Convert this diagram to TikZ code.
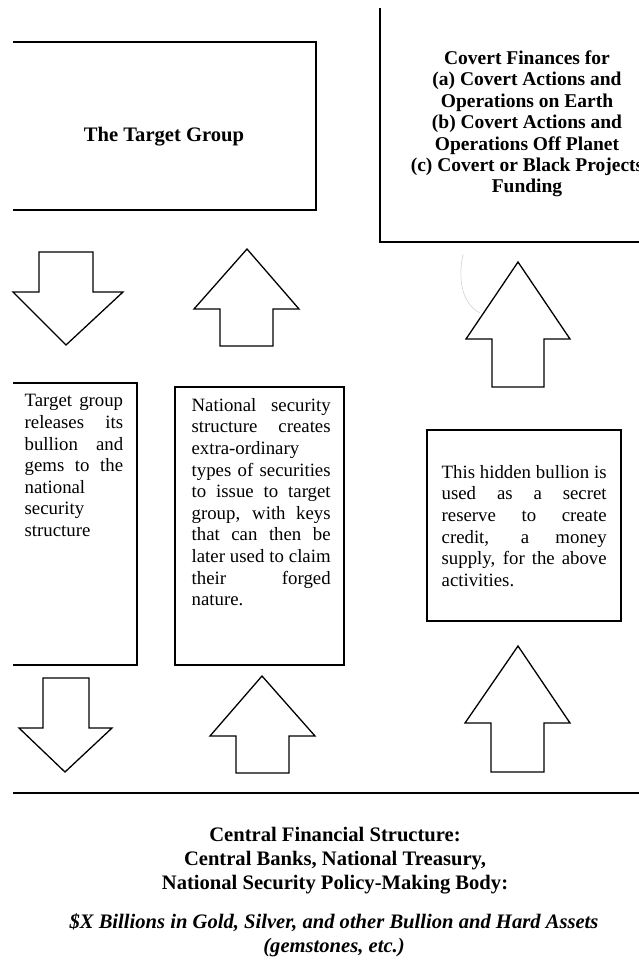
\documentclass[tikz,border=0pt]{standalone}
\usepackage{fontspec}
\setmainfont{Liberation Serif}
\tolerance=10000
\hbadness=10000
\begin{document}
\begin{tikzpicture}[x=1pt, y=-1pt, line width=1.3pt, line join=miter,
        every node/.style={inner sep=0pt},
        bodytext/.style={anchor=north west, align=justify, font=\fontsize{18.8}{21.6}\selectfont},
        titletext/.style={align=center, font=\bfseries\fontsize{19.5}{21.4}\selectfont},
        bigtext/.style={align=center, font=\bfseries\fontsize{20.6}{24}\selectfont}]
        \useasboundingbox (0,0) rectangle (639,966);

        % Top boxes
        \draw (13,42) -- (316,42) -- (316,210) -- (13,210);
        \node[bigtext] (target) at (164,136.5) {The Target Group};
        \draw (380,8) -- (380,242) -- (640,242);
        \node[titletext] (covert) at (527,124) {Covert Finances for\\(a) Covert Actions and\\Operations on Earth\\(b) Covert Actions and\\Operations Off Planet\\(c) Covert or Black Projects\\Funding};
        \draw[gray!35, line width=0.6pt] (463,254) .. controls (458,278) and (461,303) .. (480,313);

        % Upper arrows
        \draw (39,252) -- (93,252) -- (93,292) -- (123,292) -- (66,345) -- (13,292) -- (39,292) -- cycle;
        \draw (247,249) -- (299,309) -- (273,309) -- (273,346) -- (220,346) -- (220,309) -- (194,309) -- cycle;
        \draw (518,262) -- (570,339) -- (544,339) -- (544,387) -- (492,387) -- (492,339) -- (466,339) -- cycle;

        % Text boxes
        \draw (13,383) -- (137,383) -- (137,665) -- (13,665);
        \node[bodytext, text width=98.5pt] (release) at (24,394) {Target group\linebreak releases its\linebreak bullion and\linebreak gems to the\linebreak national\linebreak security\linebreak structure};
        \draw (175,387) rectangle (344,665);
        \node[bodytext, text width=139pt] (securities) at (191,397.7) {National security\linebreak structure creates\linebreak extra-ordinary\linebreak types of securities\linebreak to issue to target\linebreak group, with keys\linebreak that can then be\linebreak later used to claim\linebreak their forged\linebreak nature.};
        \draw (427,430) rectangle (621,621);
        \node[bodytext, text width=165pt] (reserve) at (441,464.7) {This hidden bullion is\linebreak used as a secret\linebreak reserve to create\linebreak credit, a money\linebreak supply, for the above\linebreak activities.};

        % Lower arrows
        \draw (43,678) -- (89,678) -- (89,728) -- (112,728) -- (65,772) -- (19,728) -- (43,728) -- cycle;
        \draw (262,676) -- (315,736) -- (289,736) -- (289,773) -- (236,773) -- (236,736) -- (210,736) -- cycle;
        \draw (518,646) -- (570,723) -- (544,723) -- (544,772) -- (491,772) -- (491,723) -- (465,723) -- cycle;

        % Central structure
        \draw[line width=1.8pt] (13,793) -- (639,793);
        \node[bigtext] (central) at (335,861) {Central Financial Structure:\\Central Banks, National Treasury,\\National Security Policy-Making Body:};
        \node[bigtext, font=\bfseries\itshape\fontsize{20.6}{24}\selectfont] (assets) at (334,935.4) {\$X Billions in Gold, Silver, and other Bullion and Hard Assets\\(gemstones, etc.)};

    \end{tikzpicture}
\end{document}
